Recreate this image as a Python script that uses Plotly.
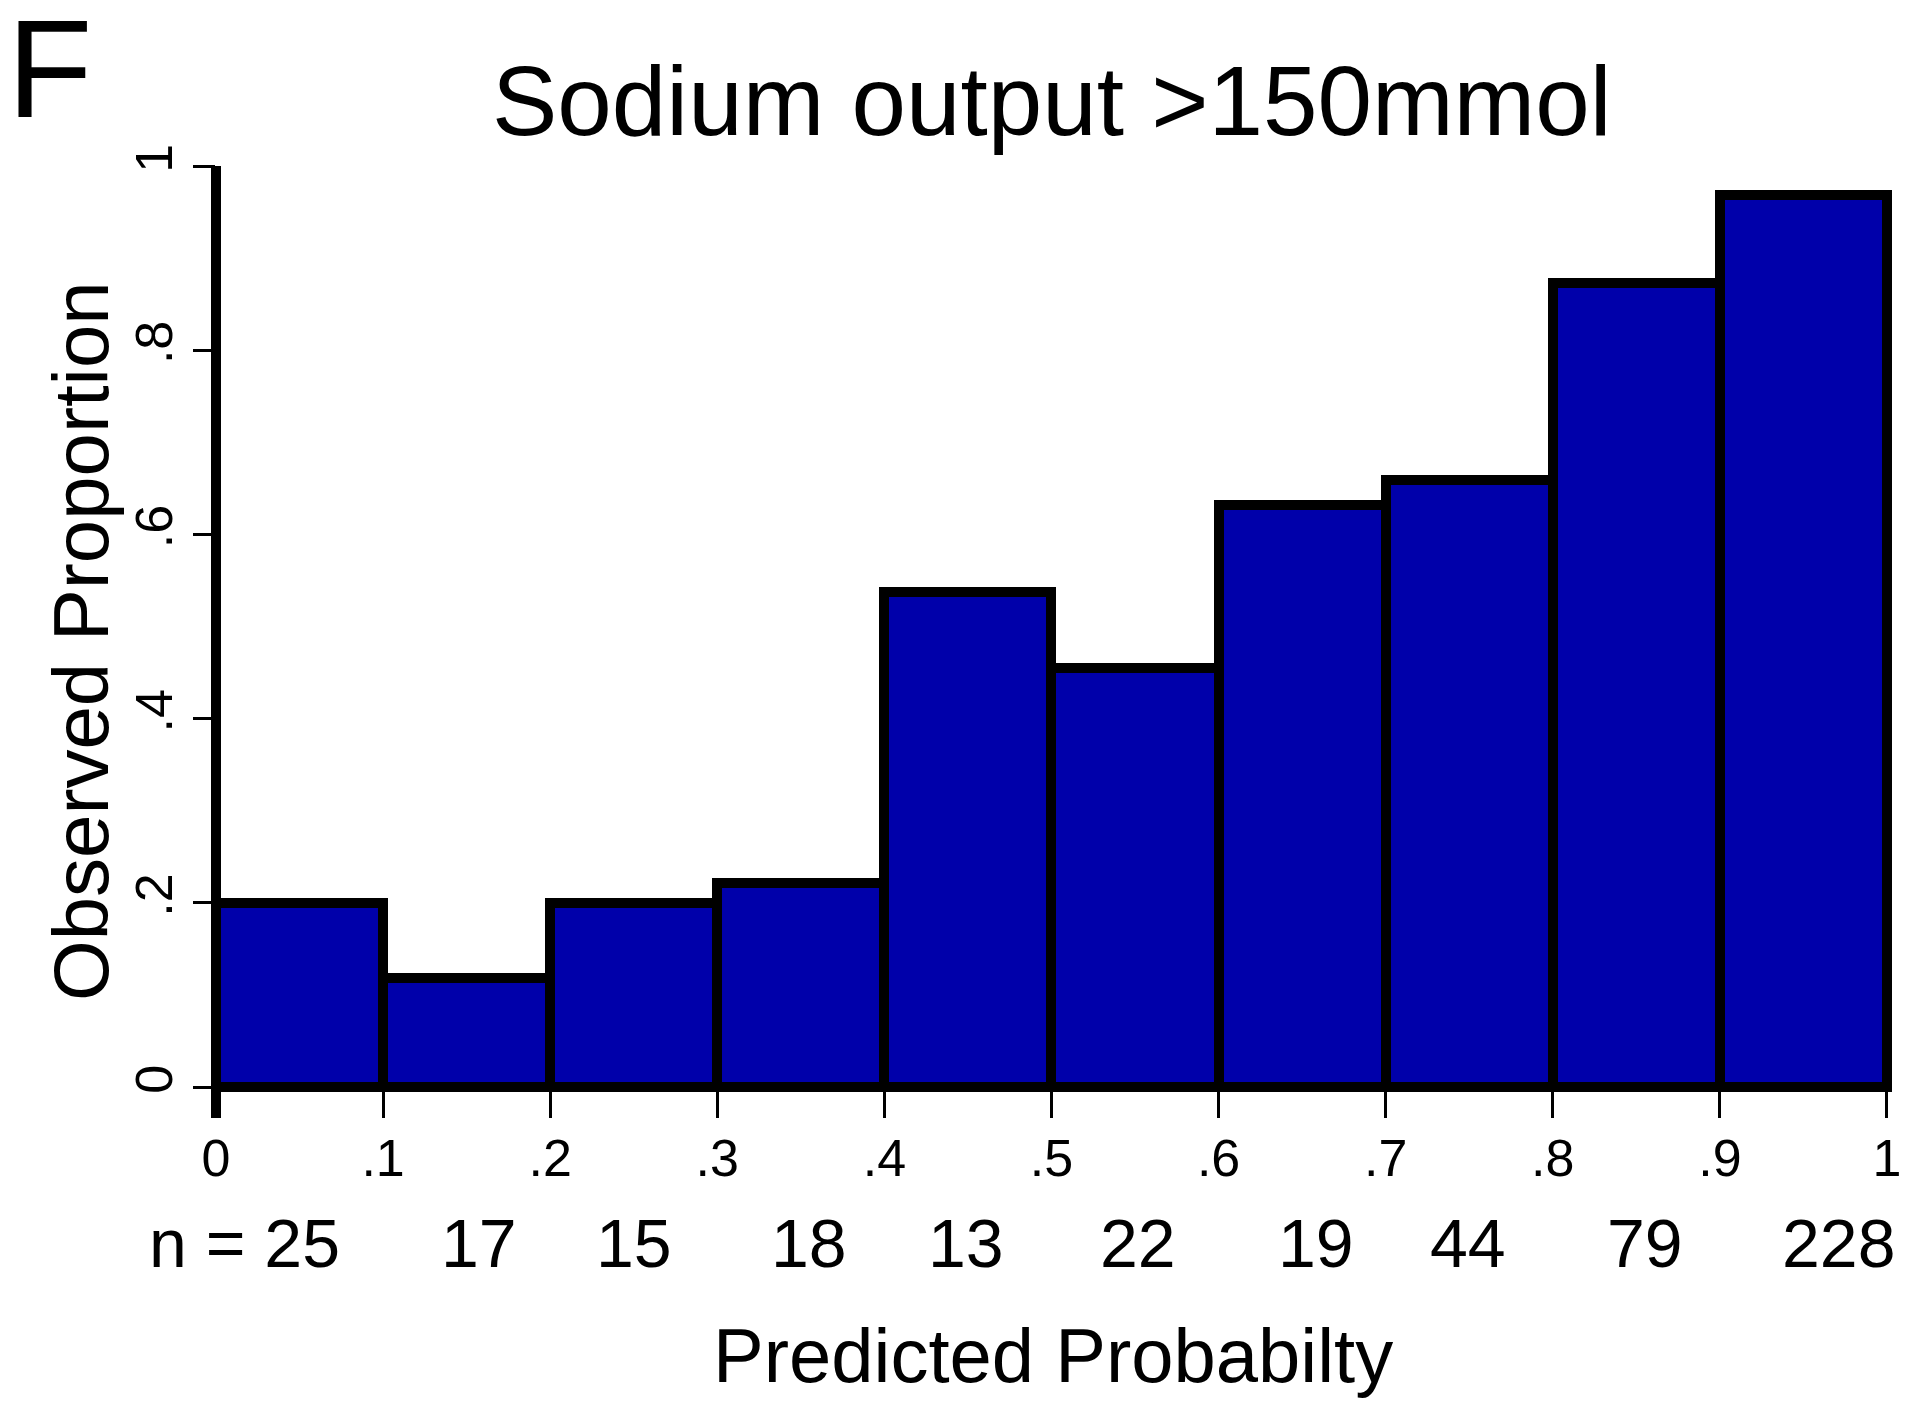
import plotly.graph_objects as go

# ---- data ----
bin_centers = [0.05, 0.15, 0.25, 0.35, 0.45, 0.55, 0.65, 0.75, 0.85, 0.95]
observed_prop = [0.200, 0.118, 0.200, 0.222, 0.538, 0.455, 0.632, 0.659, 0.873, 0.969]
n_counts = [25, 17, 15, 18, 13, 22, 19, 44, 79, 228]
x_tick_vals = [0, 0.1, 0.2, 0.3, 0.4, 0.5, 0.6, 0.7, 0.8, 0.9, 1.0]
x_tick_text = ["0", ".1", ".2", ".3", ".4", ".5", ".6", ".7", ".8", ".9", "1"]
y_tick_vals = [0, 0.2, 0.4, 0.6, 0.8, 1.0]
y_tick_text = ["0", ".2", ".4", ".6", ".8", "1"]

# ---- layout positions (not data) ----
n_label_x = [0.0168, 0.1571, 0.2499, 0.3547, 0.4488, 0.5515, 0.6583, 0.7492, 0.8549, 0.9711]

OFF = 8  # page body margin
W, H = 1912, 1416
L, T = 216 - OFF, 166 - OFF
PW, PH = 1676, 921
R = W - L - PW
B = H - T - PH
FONT = "Liberation Sans, Arial, sans-serif"


def px(x_page):
    return (x_page - OFF - L) / PW


def py(y_page):
    return (T + PH - (y_page - OFF)) / PH


fig = go.Figure()
fig.add_trace(go.Bar(
    x=bin_centers, y=observed_prop, width=0.1,
    marker=dict(color="#0000AA", line=dict(color="black", width=10)),
    hoverinfo="skip",
))

annotations = []
annotations.append(dict(text="F", xref="paper", yref="paper", x=px(5), y=py(68.5),
                        xanchor="left", yanchor="middle", showarrow=False,
                        font=dict(family=FONT, size=140, color="black")))
annotations.append(dict(text="Sodium output >150mmol", xref="paper", yref="paper",
                        x=px(1052), y=py(101), xanchor="center", yanchor="middle",
                        showarrow=False, font=dict(family=FONT, size=98, color="black")))
annotations.append(dict(text="Observed Proportion", xref="paper", yref="paper",
                        x=px(81), y=py(641), xanchor="center", yanchor="middle",
                        textangle=-90, showarrow=False,
                        font=dict(family=FONT, size=78, color="black")))
annotations.append(dict(text="Predicted Probabilty", xref="paper", yref="paper",
                        x=px(1053), y=py(1355.5), xanchor="center", yanchor="middle",
                        showarrow=False, font=dict(family=FONT, size=76, color="black")))
for i, (n, xp) in enumerate(zip(n_counts, n_label_x)):
    label = f"n = {n}" if i == 0 else str(n)
    annotations.append(dict(text=label, xref="x", yref="paper", x=xp, y=py(1242.5),
                            xanchor="center", yanchor="middle", showarrow=False,
                            font=dict(family=FONT, size=68, color="black")))

fig.update_layout(
    width=W, height=H, autosize=False,
    margin=dict(l=L, r=R, t=T, b=B, pad=0),
    paper_bgcolor="white", plot_bgcolor="white",
    bargap=0, showlegend=False,
    annotations=annotations,
    shapes=[dict(type="line", xref="paper", yref="paper", x0=0, x1=0,
                 y0=py(1118), y1=1.0, line=dict(color="black", width=10), layer="above")],
    xaxis=dict(range=[0, 1.003], showline=True, linewidth=5, linecolor="black",
               ticks="outside", ticklen=26, tickwidth=3, tickcolor="black",
               tickvals=x_tick_vals, ticktext=x_tick_text, ticklabelstandoff=-4,
               tickfont=dict(family=FONT, size=52, color="black"),
               showgrid=False, zeroline=False, fixedrange=True),
    yaxis=dict(range=[0, 1], showline=False,
               ticks="outside", ticklen=22, tickwidth=3, tickcolor="black",
               tickvals=y_tick_vals, ticktext=y_tick_text, tickangle=-90,
               tickfont=dict(family=FONT, size=52, color="black"),
               showgrid=False, zeroline=False, fixedrange=True),
)

fig.write_html("out.html")
